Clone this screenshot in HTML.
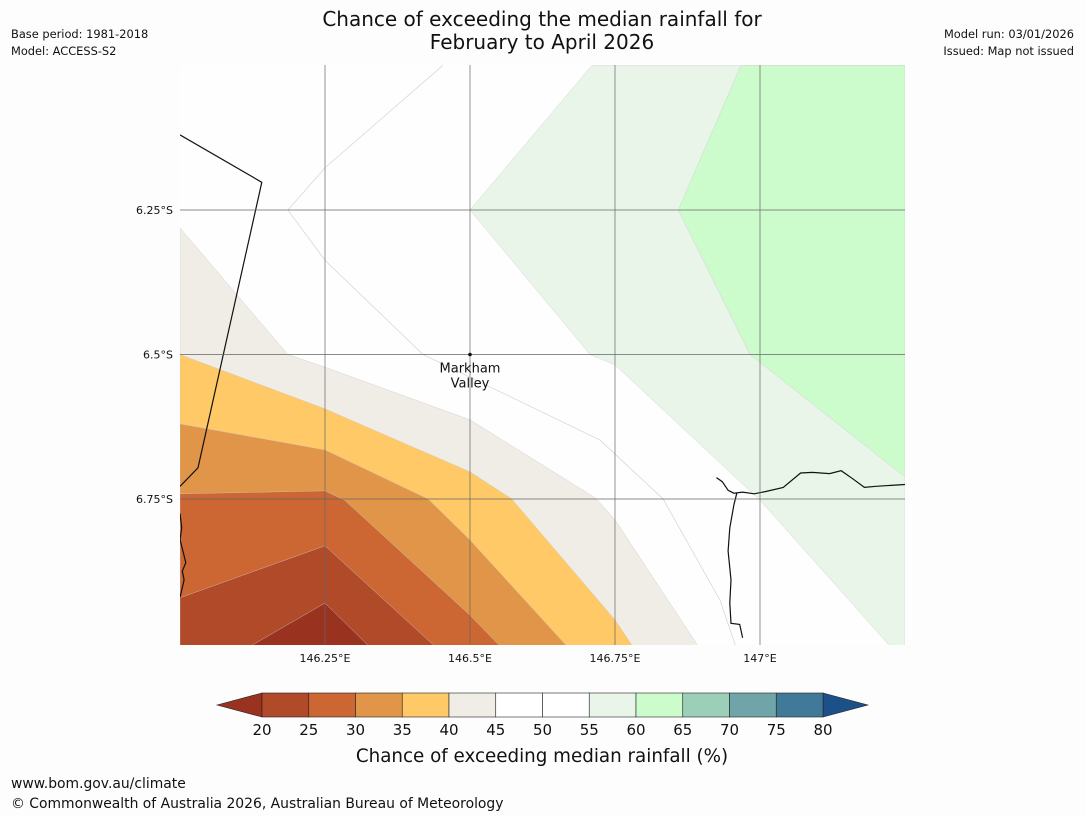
<!DOCTYPE html>
<html><head><meta charset="utf-8">
<style>
body{margin:0;background:#fdfdfd;width:1085px;height:816px;overflow:hidden;font-family:"Liberation Sans","DejaVu Sans",sans-serif;}
svg{position:absolute;left:0;top:0}
</style></head>
<body>
<svg id="c" width="1085" height="816" xmlns="http://www.w3.org/2000/svg">
<text x="542" y="26" font-size="20" text-anchor="middle" fill="#111" font-family="DejaVu Sans">Chance of exceeding the median rainfall for</text>
<text x="542" y="49" font-size="20" text-anchor="middle" fill="#111" font-family="DejaVu Sans">February to April 2026</text>
<text x="11" y="38" font-size="11.4" fill="#111" font-family="DejaVu Sans">Base period: 1981-2018</text>
<text x="11" y="55" font-size="11.4" fill="#111" font-family="DejaVu Sans">Model: ACCESS-S2</text>
<text x="1074" y="38" font-size="11.4" fill="#111" text-anchor="end" font-family="DejaVu Sans">Model run: 03/01/2026</text>
<text x="1074" y="55" font-size="11.4" fill="#111" text-anchor="end" font-family="DejaVu Sans">Issued: Map not issued</text>
<defs><clipPath id="mc"><rect x="180" y="65" width="725" height="580"/></clipPath></defs>
<g id="map" clip-path="url(#mc)"></g>
<g id="axes"></g>
<g id="cbar"></g>
<text x="542" y="762" font-size="18.3" text-anchor="middle" fill="#111" font-family="DejaVu Sans">Chance of exceeding median rainfall (%)</text>
<text x="11" y="788" font-size="13.9" fill="#111" font-family="DejaVu Sans">www.bom.gov.au/climate</text>
<text x="11" y="808" font-size="13.9" fill="#111" font-family="DejaVu Sans">© Commonwealth of Australia 2026, Australian Bureau of Meteorology</text>
</svg>
<script>
const lonTicks=[146.25,146.5,146.75,147.0];
const lonLabels=["146.25°E","146.5°E","146.75°E","147°E"];
const latTicks=[6.25,6.5,6.75];
const latLabels=["6.25°S","6.5°S","6.75°S"];
const cbLevels=[20,25,30,35,40,45,50,55,60,65,70,75,80];
const cbColors=["#b04a28","#cc6633","#e09548","#fec966","#f0ece6","#ffffff","#ffffff","#e9f5e9","#ccfccc","#9ccfb8","#6fa5a8","#417998"];
// contour regions [lon,lat]
const below45=[[146.0,6.281],[146.186,6.5],[146.25,6.522],[146.5,6.613],[146.716,6.748],[146.75,6.786],[146.897,7.01],[146.0,7.01]];
const below40=[[146.0,6.5],[146.25,6.594],[146.5,6.703],[146.572,6.75],[146.75,6.959],[146.784,7.01],[146.0,7.01]];
const below35=[[146.0,6.62],[146.25,6.665],[146.428,6.75],[146.5,6.821],[146.672,7.01],[146.0,7.01]];
const below30=[[146.0,6.741],[146.25,6.736],[146.284,6.752],[146.5,6.951],[146.557,7.01],[146.0,7.01]];
const below25=[[146.0,6.921],[146.25,6.831],[146.445,7.01],[146.0,7.01]];
const below20=[[146.112,7.01],[146.25,6.93],[146.331,7.01]];
const above55=[[146.71,6.0],[147.25,6.0],[147.25,7.01],[147.229,7.01],[147.0,6.752],[146.75,6.518],[146.707,6.5],[146.5,6.25]];
const above60=[[146.967,6.0],[147.25,6.0],[147.25,6.712],[146.983,6.5],[146.859,6.25]];
const contour50=[[146.453,6.0],[146.25,6.177],[146.186,6.25],[146.25,6.337],[146.419,6.5],[146.724,6.648],[146.833,6.75],[146.931,6.925],[146.96,7.01]];
const border=[[146.0,6.12],[146.141,6.202],[146.031,6.696],[146.0,6.728]];
const coastL=[[146.0,6.775],[146.003,6.8],[146.0,6.82],[146.005,6.84],[146.01,6.86],[146.004,6.875],[146.007,6.89],[146.0,6.92]];
const coastR=[[146.925,6.713],[146.935,6.72],[146.945,6.735],[146.955,6.74],[146.97,6.738],[146.99,6.741],[147.01,6.737],[147.04,6.73],[147.07,6.705],[147.09,6.704],[147.12,6.706],[147.14,6.701],[147.16,6.715],[147.18,6.73],[147.2,6.728],[147.25,6.725]];
const coastR2=[[146.96,6.74],[146.955,6.76],[146.948,6.8],[146.945,6.84],[146.95,6.89],[146.948,6.93],[146.95,6.965],[146.965,6.967],[146.97,6.99]];
const town=[146.5,6.5];

const NS="http://www.w3.org/2000/svg";
const X=lon=>325+(lon-146.25)*580;
const Y=lat=>210+(lat-6.25)*578;
function mk(tag,attrs,parent){const e=document.createElementNS(NS,tag);for(const k in attrs)e.setAttribute(k,attrs[k]);parent.appendChild(e);return e;}
const pts=a=>a.map(p=>X(p[0]).toFixed(1)+","+Y(p[1]).toFixed(1)).join(" ");
const map=document.getElementById("map");
let bg=mk("rect",{x:180,y:65,width:725,height:580,fill:"#fefefe"},map);


const regions=[[below45,cbColors[4],"band-40-45"],[below40,cbColors[3],"band-35-40"],[below35,cbColors[2],"band-30-35"],[below30,cbColors[1],"band-25-30"],[below25,cbColors[0],"band-20-25"],[below20,"#9a3220","band-below-20"],[above55,cbColors[7],"band-55-60"],[above60,cbColors[8],"band-60-65"]];
regions.forEach(r=>{const p=mk("polygon",{points:pts(r[0]),fill:r[1],stroke:"#ccc","stroke-width":0.4},map);

});
let cl=mk("polyline",{points:pts(contour50),fill:"none",stroke:"#ccc","stroke-width":0.6},map);


[[border,"border-line"],[coastL,"coastline-west"],[coastR,"coastline-east"],[coastR2,"coastline-river"]].forEach(c=>{const l=mk("polyline",{points:pts(c[0]),fill:"none",stroke:"#111","stroke-width":1.2},map);

});
const ax=document.getElementById("axes");
lonTicks.forEach((v,i)=>{const l=mk("line",{x1:X(v),x2:X(v),y1:65,y2:645,stroke:"#666","stroke-width":0.7},ax);


const t=mk("text",{x:X(v),y:662,"font-size":11,"text-anchor":"middle",fill:"#111","font-family":"DejaVu Sans"},ax);t.textContent=lonLabels[i];

});
latTicks.forEach((v,i)=>{const l=mk("line",{x1:180,x2:905,y1:Y(v),y2:Y(v),stroke:"#666","stroke-width":0.7},ax);


const t=mk("text",{x:173,y:Y(v)+4,"font-size":11,"text-anchor":"end",fill:"#111","font-family":"DejaVu Sans"},ax);t.textContent=latLabels[i];

});
const dot=mk("circle",{cx:X(town[0]),cy:Y(town[1]),r:1.8,fill:"#111"},ax);


["Markham","Valley"].forEach((s,i)=>{const t=mk("text",{x:X(town[0]),y:Y(town[1])+18+i*15,"font-size":13,"text-anchor":"middle",fill:"#111","font-family":"DejaVu Sans"},ax);t.textContent=s;

});
// colorbar
const cb=document.getElementById("cbar");
const cx0=262,cx1=823,cy0=693,cy1=717;
const CX=v=>cx0+(v-cbLevels[0])/(cbLevels[cbLevels.length-1]-cbLevels[0])*(cx1-cx0);
let lt=mk("polygon",{points:`217,705 ${cx0},${cy0} ${cx0},${cy1}`,fill:"#9a3220",stroke:"#222","stroke-width":0.6},cb);


let rt=mk("polygon",{points:`868,705 ${cx1},${cy0} ${cx1},${cy1}`,fill:"#1b5088",stroke:"#222","stroke-width":0.6},cb);


cbColors.forEach((c,i)=>{const r=mk("rect",{x:CX(cbLevels[i]),y:cy0,width:CX(cbLevels[i+1])-CX(cbLevels[i]),height:cy1-cy0,fill:c,stroke:"#222","stroke-width":0.6},cb);

});
cbLevels.forEach(v=>{const t=mk("text",{x:CX(v),y:735,"font-size":15,"text-anchor":"middle",fill:"#111","font-family":"DejaVu Sans"},cb);t.textContent=v;

});
</script>
</body></html>
